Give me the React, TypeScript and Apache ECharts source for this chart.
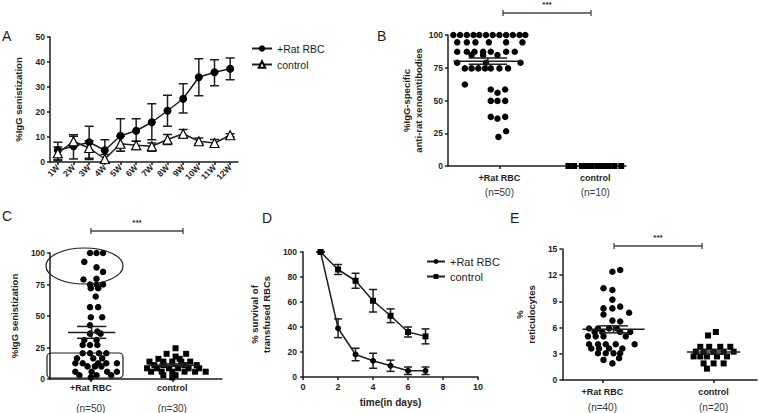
import React, { useEffect, useRef } from 'react';
import * as echarts from 'echarts';

const INK = '#1e1e1e';
const FONT = '"Liberation Sans", Arial, Helvetica, sans-serif';

// ---------- Panel A ----------
const weeks = ['1W', '2W', '3W', '4W', '5W', '6W', '7W', '8W', '9W', '10W', '11W', '12W'];
const ratMeanA = [4.7, 6.3, 7.9, 4.7, 10.5, 12.5, 15.9, 20.5, 25.3, 33.9, 35.9, 37.3];
const ratLowA = [1, 1.2, 1, 0, 4.3, 8.3, 8.9, 14.3, 19.6, 26.5, 30.5, 32.9];
const ratHighA = [7.9, 10.9, 14.3, 8.9, 17.3, 17.3, 23.3, 26.7, 31.3, 41.3, 40.9, 41.6];
const ctrlMeanA = [3.5, 8.3, 5.6, 1.2, 7.3, 6.7, 6.3, 9, 11.3, 8.3, 7.6, 10.7];
const ctrlLowA = [0.5, 6.3, 1.5, 0, 4.3, 5, 4.3, 7, 9.6, 7.3, 6.3, 10];
const ctrlHighA = [6, 10.3, 8.5, 3, 10.3, 8.3, 7.6, 11, 13, 9.6, 9, 11.3];

// ---------- Panel B ----------
// x = group index (0 = +Rat RBC, 1 = control) plus the dot's horizontal scatter
const groupNames = ['+Rat RBC', 'control'];
const nB = ['(n=50)', '(n=10)'];
const ratB = [
  [-0.48, 100], [-0.41, 100], [-0.34, 100], [-0.27, 100], [-0.21, 100], [-0.14, 100],
  [-0.07, 100], [0, 100], [0.07, 100], [0.14, 100], [0.21, 100], [0.27, 100],
  [-0.44, 94.4], [-0.34, 94.4], [-0.25, 94.4], [-0.11, 94.4], [0.07, 94.4], [0.24, 94.4],
  [-0.44, 87.2], [-0.34, 87.2], [-0.26, 87.2], [-0.17, 87.2], [-0.09, 87.2], [0.07, 87.2], [0.16, 87.2],
  [-0.29, 84.7], [-0.17, 84.7], [-0.02, 84.7],
  [-0.44, 78.8], [-0.14, 78.8], [0.22, 78.8],
  [-0.36, 74.5], [-0.29, 74.5], [-0.22, 74.5], [-0.15, 74.5], [-0.09, 74.5], [0, 74.5], [0.09, 74.5],
  [-0.36, 62.2], [-0.09, 58.4], [0.06, 58.4], [-0.02, 55.9],
  [-0.09, 49.7], [-0.02, 49.7], [0.06, 49.7],
  [-0.09, 37.5], [0.06, 37.5], [-0.02, 36.2],
  [0.07, 26.5], [-0.01, 22.2],
];
const ctrlB = [
  [0.72, 0], [0.78, 0], [0.86, 0], [0.91, 0], [0.96, 0],
  [1.02, 0], [1.08, 0], [1.14, 0], [1.2, 0], [1.27, 0],
];
const meanB = [[0, 80, 2.4]];

// ---------- Panel C ----------
const nC = ['(n=50)', '(n=30)'];
const ratC = [
  [-0.01, 100], [0.07, 100], [0.15, 100], [-0.08, 93], [0.07, 88.6], [0.15, 85],
  [-0.09, 79], [0.07, 79.6], [-0.01, 75], [0.07, 75], [0.15, 75], [0, 72], [0.09, 72],
  [0.06, 65.5], [-0.01, 57], [0.09, 57], [0, 49], [0.14, 49], [-0.01, 42.7], [0.08, 37.7],
  [-0.01, 36], [0.12, 36], [-0.08, 31], [0.07, 31], [-0.1, 27], [-0.01, 27], [0.08, 27],
  [-0.1, 20.4], [-0.01, 20.4], [0.1, 20.4], [0.19, 20.4],
  [-0.17, 16.4], [0.03, 16.4], [0.14, 16.4],
  [-0.19, 12.5], [-0.1, 12.5], [0.09, 12.5], [0.19, 12.5], [0.32, 12.5],
  [-0.04, 10], [0.05, 10], [0.13, 10],
  [-0.19, 5.8], [0.01, 5.8], [0.2, 5.8], [0.32, 5.8],
  [-0.14, 3], [0.07, 3], [0.25, 3], [0, 1.3],
];
const ctrlC = [
  [1.04, 24.4], [0.93, 20], [1.17, 20], [1.04, 17.8], [0.83, 16], [1.09, 16],
  [0.72, 13.8], [0.89, 13.8], [1.0, 13.8], [1.11, 13.8], [1.22, 13.8],
  [0.78, 11], [0.89, 11], [1.15, 11], [1.3, 11],
  [0.69, 8.5], [0.81, 8.5], [0.96, 8.5], [1.07, 8.5], [1.2, 8.5], [1.33, 8.5],
  [0.74, 5.8], [0.87, 5.8], [1.0, 5.8], [1.15, 5.8], [1.28, 5.8], [1.41, 5.8],
  [0.89, 3], [1.04, 3], [1.0, 1.3],
];
const meanC = [[0, 37, 4.7], [1, 11, 1.0]];

// ---------- Panel D ----------
const days = [1, 2, 3, 4, 5, 6, 7];
const ratD = [100, 39, 18, 13, 9, 5, 5];
const ratSemD = [0, 7.5, 5, 6, 4.5, 3, 3];
const ctrlD = [100, 86, 77, 61, 49, 36, 32.5];
const ctrlSemD = [0, 4, 6, 9, 5.5, 4, 6];

// ---------- Panel E ----------
const nE = ['(n=40)', '(n=20)'];
const ratE = [
  [0.16, 12.6], [0.09, 12.4], [0.01, 10.5], [0.09, 10.3], [0.09, 9.2],
  [0.01, 8.2], [0.09, 8.2], [0.16, 8.4], [0.24, 7.7], [0.01, 7.5], [0.09, 6.8], [0.16, 6.7],
  [-0.12, 5.9], [-0.04, 5.9], [0.06, 5.9], [0.13, 5.9],
  [-0.07, 5.5], [0, 5.5], [0.16, 5.5], [0.25, 5.5],
  [-0.13, 5.0], [-0.06, 5.0], [0.01, 5.0], [0.21, 5.0],
  [-0.12, 4.1], [-0.04, 4.1], [0.03, 4.1], [0.12, 4.1], [0.29, 4.1],
  [-0.1, 3.6], [-0.03, 3.6], [0.06, 3.6], [0.18, 3.6],
  [-0.04, 3.06], [0.03, 3.06], [0.1, 3.06], [0.16, 3.06],
  [0.01, 2.3], [0.15, 2.5], [0.09, 1.9],
];
const ctrlE = [
  [0.95, 5.1], [1.02, 5.5],
  [0.88, 3.8], [0.96, 3.8], [1.06, 3.8], [1.15, 3.8],
  [0.84, 3.25], [0.91, 3.25], [1.0, 3.25], [1.09, 3.25], [1.18, 3.25],
  [0.82, 2.7], [0.88, 2.7], [0.94, 2.7], [1.03, 2.7], [1.12, 2.7],
  [0.91, 1.9], [1.0, 1.9], [1.09, 1.9], [0.94, 1.3],
];
const meanE = [[0, 5.8, 0.4], [1, 3.2, 0.25]];

// ---------- helpers ----------
// the group axis runs from a positive min so that ECharts never moves the y axis onto x = 0
const G0 = 1;
const lineAxis = { lineStyle: { color: INK, width: 1.5 } };
const tickStyle = { lineStyle: { color: INK, width: 1.5 } };
const tickLabel = { color: INK, fontFamily: FONT, fontWeight: 'bold', fontSize: 8.5 };
const nameStyle = { color: INK, fontFamily: FONT, fontWeight: 'bold', fontSize: 9.5, lineHeight: 12 };

function valueY(min: number, max: number, interval: number, name: string, gap: number, margin = 5) {
  return {
    type: 'value', min, max, interval, position: 'left',
    name, nameLocation: 'middle', nameGap: gap, nameTextStyle: nameStyle,
    axisLine: { show: true, onZero: false, ...lineAxis },
    axisTick: { show: true, length: 3, ...tickStyle },
    axisLabel: { ...tickLabel, margin },
    splitLine: { show: false },
  };
}

function groupX(min: number, max: number, ns: string[], margin: number, la: number, lb: number) {
  return {
    type: 'value', min: min + G0, max: max + G0, position: 'bottom',
    axisLine: { show: true, onZero: false, ...lineAxis },
    axisTick: { show: true, length: 3, customValues: [G0, G0 + 1], ...tickStyle },
    axisLabel: {
      customValues: [G0, G0 + 1], margin,
      formatter: (v: number) => `{a|${groupNames[Math.round(v - G0)]}}\n{b|${ns[Math.round(v - G0)]}}`,
      rich: {
        a: { fontFamily: FONT, fontWeight: 'bold', fontSize: 9, color: INK, lineHeight: la },
        b: { fontFamily: FONT, fontSize: 10, color: '#3a3a3a', lineHeight: lb },
      },
    },
    splitLine: { show: false },
  };
}

function errorBars(data: number[][], cap: number) {
  return {
    type: 'custom', z: 1, silent: true,
    data,
    encode: { x: 0, y: [1, 2] },
    renderItem: (_p: any, api: any) => {
      const x = api.value(0);
      const a = api.coord([x, api.value(1)]);
      const b = api.coord([x, api.value(2)]);
      const h = cap / 2;
      const style = { stroke: INK, lineWidth: 1.5 };
      return {
        type: 'group',
        children: [
          { type: 'line', shape: { x1: a[0], y1: a[1], x2: b[0], y2: b[1] }, style },
          { type: 'line', shape: { x1: a[0] - h, y1: a[1], x2: a[0] + h, y2: a[1] }, style },
          { type: 'line', shape: { x1: b[0] - h, y1: b[1], x2: b[0] + h, y2: b[1] }, style },
        ],
      };
    },
  };
}

function meanSem(data: number[][], geom: { shift: number; half: number; cap: number }[]) {
  return {
    type: 'custom', z: 5, silent: true,
    data: data.map(([g, m, s]) => [g + G0, m, s]),
    renderItem: (p: any, api: any) => {
      const g = geom[p.dataIndex];
      const x = api.value(0) + g.shift;
      const m = api.value(1);
      const s = api.value(2);
      const l = api.coord([x - g.half, m]);
      const r = api.coord([x + g.half, m]);
      const top = api.coord([x, m + s]);
      const bot = api.coord([x, m - s]);
      const cl = api.coord([x - g.cap, m])[0];
      const cr = api.coord([x + g.cap, m])[0];
      const style = { stroke: INK, lineWidth: 1.5 };
      return {
        type: 'group',
        children: [
          { type: 'line', shape: { x1: l[0], y1: l[1], x2: r[0], y2: r[1] }, style },
          { type: 'line', shape: { x1: top[0], y1: top[1], x2: bot[0], y2: bot[1] }, style },
          { type: 'line', shape: { x1: cl, y1: top[1], x2: cr, y2: top[1] }, style },
          { type: 'line', shape: { x1: cl, y1: bot[1], x2: cr, y2: bot[1] }, style },
        ],
      };
    },
  };
}

function bracket(x1: number, x2: number, y: number) {
  const style = { stroke: '#444', lineWidth: 1.3 };
  return [
    { type: 'line', shape: { x1, y1: y, x2, y2: y }, style },
    { type: 'line', shape: { x1, y1: y - 3, x2: x1, y2: y + 3 }, style },
    { type: 'line', shape: { x1: x2, y1: y - 3, x2, y2: y + 3 }, style },
    {
      type: 'text', x: (x1 + x2) / 2, y: y - 9,
      style: { text: '***', fill: INK, fontFamily: FONT, fontWeight: 'bold', fontSize: 8, align: 'center', verticalAlign: 'middle' },
    },
  ];
}

function letter(t: string, x: number, y: number) {
  return {
    type: 'text', x, y,
    style: { text: t, fill: INK, fontFamily: FONT, fontSize: 14, align: 'left', verticalAlign: 'top' },
  };
}

function scatter(data: number[][], symbol: string, size: number) {
  return {
    type: 'scatter', data: data.map(([x, y]) => [x + G0, y]), symbol, symbolSize: size, z: 3, silent: true,
    itemStyle: { color: '#000', opacity: 1 },
  };
}

// ---------- options ----------
const optionA = {
  animation: false,
  grid: { left: 50, top: 37, width: 188, height: 125 },
  legend: {
    orient: 'vertical', left: 246, top: 38, itemWidth: 20, itemHeight: 8, itemGap: 5,
    data: ['+Rat RBC', 'control'],
    textStyle: { color: INK, fontFamily: FONT, fontSize: 10.5 },
  },
  xAxis: {
    type: 'category', data: weeks, boundaryGap: true,
    axisLine: { show: true, ...lineAxis },
    axisTick: { show: true, alignWithLabel: true, length: 3, ...tickStyle },
    axisLabel: { ...tickLabel, fontSize: 8.5, rotate: 45, interval: 0, margin: 4 },
  },
  yAxis: valueY(0, 50, 10, '%IgG senistization', 22, 5),
  series: [
    errorBars(weeks.map((_, i) => [i, ratLowA[i], ratHighA[i]]), 9),
    errorBars(weeks.map((_, i) => [i, ctrlLowA[i], ctrlHighA[i]]), 9),
    {
      type: 'line', name: '+Rat RBC', data: ratMeanA, symbol: 'circle', symbolSize: 8, z: 3,
      lineStyle: { color: INK, width: 1.5 }, itemStyle: { color: '#000' },
    },
    {
      type: 'line', name: 'control', data: ctrlMeanA, symbol: 'triangle', symbolSize: 9, z: 4,
      lineStyle: { color: INK, width: 1.5 }, itemStyle: { color: '#fff', borderColor: '#000', borderWidth: 1.2 },
    },
  ],
  graphic: [letter('A', 2, 29)],
};

const optionB = {
  animation: false,
  grid: { left: 78, top: 35, width: 178, height: 131 },
  xAxis: groupX(-0.536, 1.32, nB, 6, 12, 16),
  yAxis: valueY(0, 100, 25, '%IgG-specific\nanti-rat xenoantibodies', 24, 5),
  series: [
    scatter(ratB, 'circle', 6.5),
    scatter(ctrlB, 'rect', 6),
    meanSem(meanB, [{ shift: -0.12, half: 0.36, cap: 0.2 }]),
  ],
  graphic: [letter('B', 7, 29), ...bracket(133, 221, 13)],
};

const optionC = {
  animation: false,
  grid: { left: 32, top: 53, width: 190, height: 126 },
  xAxis: groupX(-0.5, 1.61, nC, 3, 12, 28),
  yAxis: valueY(0, 100, 25, '%IgG senistization', 17, 5),
  series: [
    scatter(ratC, 'circle', 6.5),
    scatter(ctrlC, 'rect', 6),
    meanSem(meanC, [{ shift: 0.01, half: 0.29, cap: 0.18 }, { shift: 0.02, half: 0.31, cap: 0.18 }]),
  ],
  graphic: [
    letter('C', 2, 9),
    ...bracket(91, 183, 31),
    { type: 'ellipse', shape: { cx: 84.5, cy: 66, rx: 38.5, ry: 18 }, style: { fill: 'none', stroke: INK, lineWidth: 1.2 }, z: 10 },
    { type: 'rect', shape: { x: 47, y: 153, width: 76, height: 25, r: 4 }, style: { fill: 'none', stroke: INK, lineWidth: 1.2 }, z: 10 },
  ],
};

const optionD = {
  animation: false,
  grid: { left: 51, top: 52, width: 187, height: 126 },
  legend: {
    orient: 'vertical', left: 181, top: 51, itemWidth: 18, itemHeight: 6, itemGap: 4,
    data: ['+Rat RBC', 'control'],
    textStyle: { color: INK, fontFamily: FONT, fontSize: 11 },
  },
  xAxis: {
    type: 'value', min: 0, max: 10, interval: 2,
    name: 'time(in days)', nameLocation: 'middle', nameGap: 19, nameTextStyle: { ...nameStyle, fontSize: 10 },
    axisLine: { show: true, onZero: false, ...lineAxis },
    axisTick: { show: true, length: 3, ...tickStyle },
    axisLabel: { ...tickLabel, fontSize: 9, margin: 5 },
    splitLine: { show: false },
  },
  yAxis: valueY(0, 100, 20, '% survival of\ntransfused RBCs', 28, 6),
  series: [
    errorBars(days.map((d, i) => [d, ratD[i] - ratSemD[i], ratD[i] + ratSemD[i]]), 8),
    errorBars(days.map((d, i) => [d, ctrlD[i] - ctrlSemD[i], ctrlD[i] + ctrlSemD[i]]), 8),
    {
      type: 'line', name: '+Rat RBC', data: days.map((d, i) => [d, ratD[i]]), symbol: 'circle', symbolSize: 6, z: 3,
      lineStyle: { color: INK, width: 1.5 }, itemStyle: { color: '#000' },
    },
    {
      type: 'line', name: 'control', data: days.map((d, i) => [d, ctrlD[i]]), symbol: 'rect', symbolSize: 6, z: 3,
      lineStyle: { color: INK, width: 1.5 }, itemStyle: { color: '#000' },
    },
  ],
  graphic: [letter('D', 22, 11)],
};

const optionE = {
  animation: false,
  grid: { left: 54, top: 49, width: 198, height: 131 },
  xAxis: groupX(-0.36, 1.39, nE, 6, 12, 18),
  yAxis: valueY(0, 15, 3, '%\nreticulocytes', 21, 5),
  series: [
    scatter(ratE, 'circle', 6.5),
    scatter(ctrlE, 'rect', 6),
    meanSem(meanE, [{ shift: 0.1, half: 0.28, cap: 0.13 }, { shift: 0, half: 0.24, cap: 0.12 }]),
  ],
  graphic: [letter('E', 5, 11), ...bracket(109, 197, 46)],
};

function Panel(props: { left: number; top: number; width: number; height: number; option: any }) {
  const ref = useRef<HTMLDivElement>(null);
  useEffect(() => {
    const chart = echarts.init(ref.current!, null, { renderer: 'svg' });
    chart.setOption(props.option);
    return () => chart.dispose();
  }, []);
  return (
    <div
      ref={ref}
      style={{ position: 'absolute', left: props.left, top: props.top, width: props.width, height: props.height }}
    />
  );
}

export default function App() {
  return (
    <div style={{ position: 'fixed', left: 0, top: 0, width: 758, height: 413, background: '#fff', overflow: 'hidden' }}>
      <Panel left={0} top={0} width={370} height={200} option={optionA} />
      <Panel left={370} top={0} width={388} height={200} option={optionB} />
      <Panel left={0} top={200} width={240} height={213} option={optionC} />
      <Panel left={240} top={200} width={265} height={213} option={optionD} />
      <Panel left={505} top={200} width={253} height={213} option={optionE} />
    </div>
  );
}
